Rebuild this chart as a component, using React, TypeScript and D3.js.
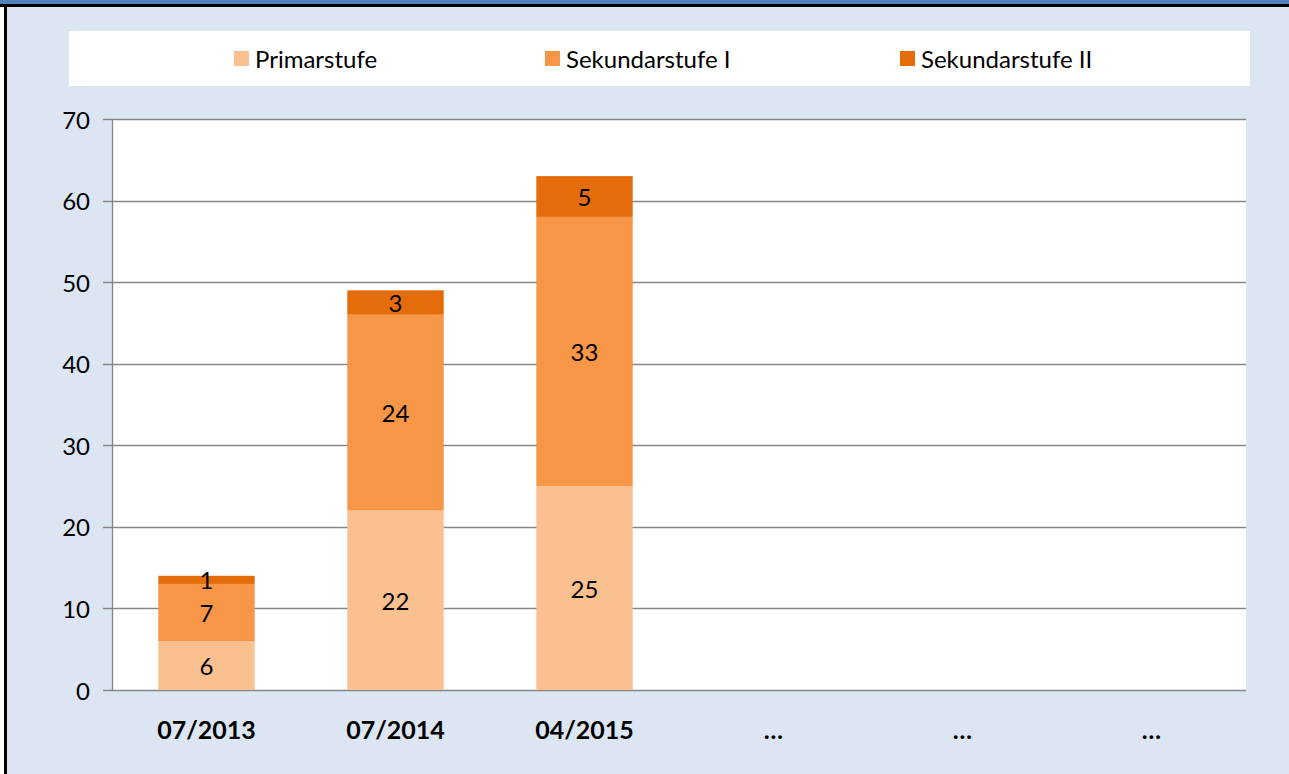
import React, { useEffect, useRef } from 'react';
import * as d3 from 'd3';

const categories = ['07/2013', '07/2014', '04/2015', '…', '… ', '…  '];
const seriesNames = ['Primarstufe', 'Sekundarstufe I', 'Sekundarstufe II'];
const primarstufe = [6, 22, 25, null, null, null];
const sekundarstufeI = [7, 24, 33, null, null, null];
const sekundarstufeII = [1, 3, 5, null, null, null];
const yTicks = [0, 10, 20, 30, 40, 50, 60, 70];
const colors = ['#FAC090', '#F79646', '#E46C0A'];

const App = () => {
    const svgRef = useRef<SVGSVGElement>(null);
    const width = 1289;
    const height = 774;
    const plot = { left: 112, right: 1246, top: 119, bottom: 690 };
    const font = 'Lato, "Open Sans", sans-serif';

    useEffect(() => {
        const svg = d3.select(svgRef.current);
        svg.selectAll('*').remove();

        // frame
        svg.append('rect').attr('width', width).attr('height', height).attr('fill', '#DCE6F2');
        svg.append('rect').attr('x', 0).attr('y', 0).attr('width', width).attr('height', 4).attr('fill', '#4F81BD');
        svg.append('rect').attr('x', 0).attr('y', 4).attr('width', width).attr('height', 3).attr('fill', '#000');
        svg.append('rect').attr('x', 0).attr('y', 7).attr('width', 4).attr('height', height).attr('fill', '#fff');
        svg.append('rect').attr('x', 4).attr('y', 4).attr('width', 3).attr('height', height).attr('fill', '#000');

        // legend
        svg.append('rect').attr('x', 69).attr('y', 31).attr('width', 1181).attr('height', 55).attr('fill', '#fff');
        const legendX = [234, 545, 900];
        seriesNames.forEach((name, i) => {
            svg.append('rect').attr('x', legendX[i]).attr('y', 51).attr('width', 15).attr('height', 15).attr('fill', colors[i]);
            svg.append('text').attr('x', legendX[i] + 21).attr('y', 58)
                .attr('dominant-baseline', 'central')
                .style('font-family', font).style('font-size', '24px').attr('fill', '#000')
                .text(name);
        });

        const x = d3.scaleBand().domain(categories).range([plot.left, plot.right]).paddingInner(0.49).paddingOuter(0.245);
        const y = d3.scaleLinear().domain([0, 70]).range([plot.bottom, plot.top]);

        svg.append('rect').attr('x', plot.left).attr('y', plot.top)
            .attr('width', plot.right - plot.left).attr('height', plot.bottom - plot.top).attr('fill', '#fff');

        // grid
        svg.append('g').selectAll('line').data(yTicks).join('line')
            .attr('x1', plot.left - 9).attr('x2', plot.right)
            .attr('y1', d => Math.round(y(d)) + 0.5).attr('y2', d => Math.round(y(d)) + 0.5)
            .attr('stroke', '#868686').attr('stroke-width', 1.3);

        svg.append('g').selectAll('text').data(yTicks).join('text')
            .attr('x', 90).attr('y', d => y(d))
            .attr('text-anchor', 'end').attr('dominant-baseline', 'central')
            .style('font-family', font).style('font-size', '24px')
            .text(d => d);

        // stacked bars
        const rows = categories.map((c, i) => ({
            cat: c,
            s0: primarstufe[i] ?? 0,
            s1: sekundarstufeI[i] ?? 0,
            s2: sekundarstufeII[i] ?? 0,
        }));
        const stack = d3.stack<any>().keys(['s0', 's1', 's2'])(rows);

        const g = svg.append('g');
        stack.forEach((layer, li) => {
            layer.forEach(d => {
                const v = d[1] - d[0];
                if (!v) return;
                g.append('rect')
                    .attr('x', x(d.data.cat)!).attr('width', x.bandwidth())
                    .attr('y', y(d[1])).attr('height', y(d[0]) - y(d[1]))
                    .attr('fill', colors[li]);
                g.append('text')
                    .attr('x', x(d.data.cat)! + x.bandwidth() / 2)
                    .attr('y', (y(d[0]) + y(d[1])) / 2)
                    .attr('text-anchor', 'middle').attr('dominant-baseline', 'central')
                    .style('font-family', font).style('font-size', '24px')
                    .text(v);
            });
        });

        // axis line
        svg.append('line').attr('x1', plot.left + 0.5).attr('x2', plot.left + 0.5)
            .attr('y1', plot.top).attr('y2', plot.bottom)
            .attr('stroke', '#868686').attr('stroke-width', 1.3);

        // category labels
        svg.append('g').selectAll('text').data(categories).join('text')
            .attr('x', d => x(d)! + x.bandwidth() / 2).attr('y', 729)
            .attr('text-anchor', 'middle').attr('dominant-baseline', 'central')
            .style('font-family', font).style('font-size', '25px').style('font-weight', 'bold')
            .text(d => d.trim());
    }, []);

    return (
        <svg ref={svgRef} width={width} height={height}
            style={{ position: 'fixed', left: 0, top: 0, display: 'block' }} />
    );
};

export default App;
